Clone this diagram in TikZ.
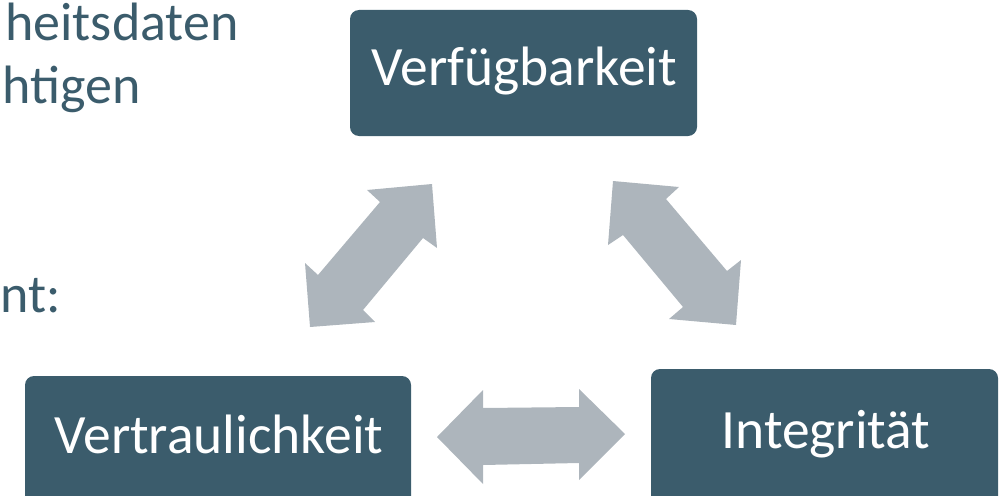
\documentclass[tikz,border=0pt]{standalone}
\usepackage{fontspec}
\setmainfont{Carlito}
\definecolor{boxc}{HTML}{3B5C6C}
\definecolor{arrc}{HTML}{ADB5BC}
\begin{document}
\begin{tikzpicture}[x=1pt,y=-1pt,
  box/.style={fill=boxc,rounded corners=9pt},
  boxtext/.style={text=white,font=\fontsize{55.5}{60}\selectfont,inner sep=0pt},
  sidetext/.style={text=boxc,font=\fontsize{54}{60}\selectfont,inner sep=0pt,anchor=base west},
  blockarrow/.style={fill=arrc}]
\useasboundingbox (0,0) rectangle (1003,495);
% boxes
\fill[box] (350,10) rectangle (697,136);
\node[boxtext,anchor=base] (verf) at (524.5,85.5) {Verfügbarkeit};
\begin{scope}
\clip (0,0) rectangle (1003,495);
\fill[box] (25,376) rectangle (411,510);
\fill[box] (651,369) rectangle (998,510);
\end{scope}
\node[boxtext,anchor=base] (vert) at (219,453) {Vertraulichkeit};
\node[boxtext,anchor=base] (integ) at (826,448) {Integrität};
% side text
\node[sidetext] (t1) at (5,41) {heitsdaten};
\node[sidetext] (t2) at (2,103) {htigen};
\node[sidetext] (t3) at (0,312) {nt:};
% arrows
\fill[blockarrow] (432,184) -- (367,190) -- (380,202) -- (318,275) -- (305,263) -- (310,327)
  -- (375,322) -- (363,310) -- (423,238) -- (437,248) -- cycle;
\fill[blockarrow] (613,181) -- (679,187) -- (666,199) -- (727,271) -- (741,260) -- (736,325)
  -- (669,319) -- (683,307) -- (623,235) -- (608,245) -- cycle;
\fill[blockarrow] (437,437) -- (483,390) -- (483,408) -- (579,407) -- (579,389) -- (625,434)
  -- (579,480) -- (579,463) -- (483,465) -- (483,484) -- cycle;
\end{tikzpicture}
\end{document}
